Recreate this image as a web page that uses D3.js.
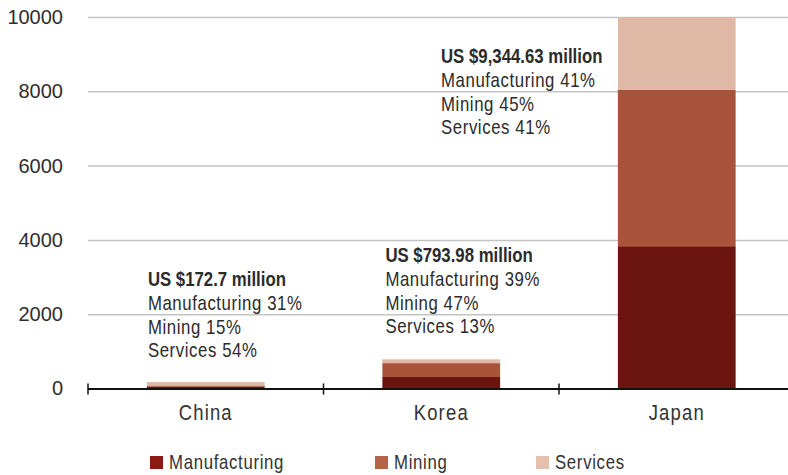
<!DOCTYPE html>
<html>
<head>
<meta charset="utf-8">
<script src="https://cdn.jsdelivr.net/npm/d3@7"></script>
<style>
  body { margin: 0; background: #fff; }
  .cond { font-family: "Liberation Sans", Arial, sans-serif; }
</style>
</head>
<body>
<div class="chart"></div>
<script>
// chart values
var categories = ["China", "Korea", "Japan"];
var seriesNames = ["Manufacturing", "Mining", "Services"];
var manufacturing = [53.5, 310, 3831];
var mining = [25.9, 373, 4205];
var services = [93.3, 103, 3831];
var yTicks = [0, 2000, 4000, 6000, 8000, 10000];
var totals = ["US $172.7 million", "US $793.98 million", "US $9,344.63 million"];
var shareLines = [
  ["Manufacturing 31%", "Mining 15%", "Services 54%"],
  ["Manufacturing 39%", "Mining 47%", "Services 13%"],
  ["Manufacturing 41%", "Mining 45%", "Services 41%"]
];

var barColors = ["#6b1410", "#a9533a", "#e0b9a6"];
var swatchColors = ["#8b1a12", "#b5644a", "#e5c0ae"];

var svgWidth = 788;
var svgHeight = 475;

var svg = d3.select(".chart")
  .append("svg")
  .attr("width", svgWidth)
  .attr("height", svgHeight);

var plotLeft = 88, plotRight = 794.5, plotTop = 17, plotBottom = 388.5;
var squeeze = 0.84; // horizontal squeeze to mimic condensed type

var xScale = d3.scaleBand()
  .domain(categories)
  .range([plotLeft, plotRight])
  .paddingInner(0.5)
  .paddingOuter(0.25);

var yScale = d3.scaleLinear()
  .domain([0, 10000])
  .range([plotBottom, plotTop])
  .clamp(true);

// gridlines + y labels
var yAxis = svg.append("g")
  .attr("transform", `translate(${plotLeft}, 0)`)
  .call(d3.axisLeft(yScale)
    .tickValues(yTicks)
    .tickSize(-(svgWidth - plotLeft))
    .tickPadding(25)
    .tickFormat(d3.format("d")));

yAxis.select(".domain").remove();
yAxis.selectAll(".tick line")
  .attr("stroke", "#c4c4c4")
  .attr("stroke-width", 1.5);
yAxis.selectAll(".tick text")
  .attr("fill", "#2e2e2e")
  .style("font-family", "'Liberation Sans', Arial, sans-serif")
  .style("font-size", "20px");

// stacked bars
var rows = categories.map(function(c, i) {
  return { cat: c, Manufacturing: manufacturing[i], Mining: mining[i], Services: services[i] };
});
var stacked = d3.stack().keys(seriesNames)(rows);

svg.append("g").selectAll("g")
  .data(stacked)
  .enter()
  .append("g")
  .attr("fill", function(d, i) { return barColors[i]; })
  .selectAll("rect")
  .data(function(d) { return d; })
  .enter()
  .append("rect")
  .attr("x", d => xScale(d.data.cat))
  .attr("width", xScale.bandwidth())
  .attr("y", d => yScale(d[1]))
  .attr("height", d => yScale(d[0]) - yScale(d[1]));

// x axis line with ticks at band edges
var step = xScale.step();
var edge = function(c) { return xScale(c) - (step - xScale.bandwidth()) / 2; };
var xg = svg.append("g");
xg.append("line")
  .attr("x1", plotLeft).attr("x2", svgWidth)
  .attr("y1", plotBottom + 0.5).attr("y2", plotBottom + 0.5)
  .attr("stroke", "#111").attr("stroke-width", 2);
xg.selectAll(".xtick")
  .data(categories)
  .enter()
  .append("line")
  .attr("class", "xtick")
  .attr("x1", d => edge(d)).attr("x2", d => edge(d))
  .attr("y1", plotBottom - 5).attr("y2", plotBottom + 6)
  .attr("stroke", "#111").attr("stroke-width", 1.5);

// squeezed text helper
function condText(parent, x, y, str, size, spacing, weight, anchor) {
  return parent.append("g")
    .attr("transform", `translate(${x}, ${y}) scale(${squeeze}, 1)`)
    .append("text")
    .attr("class", "cond")
    .attr("text-anchor", anchor || "start")
    .style("font-size", size + "px")
    .style("font-weight", weight || "normal")
    .style("letter-spacing", spacing + "px")
    .text(str);
}

// category labels
var catG = svg.append("g").attr("fill", "#333");
categories.forEach(function(c) {
  condText(catG, xScale(c) + xScale.bandwidth() / 2, 420, c, 22, 1.4, "normal", "middle");
});

// annotations
var notePos = [
  { x: xScale("China") + 1, y: 286 },
  { x: xScale("Korea") + 3, y: 262 },
  { x: 441, y: 63 }
];
var lineGap = 23.8;

categories.forEach(function(c, i) {
  var g = svg.append("g").attr("fill", "#2b2b2b");
  condText(g, notePos[i].x, notePos[i].y, totals[i], 20, 0, "bold");
  shareLines[i].forEach(function(s, j) {
    condText(g, notePos[i].x, notePos[i].y + lineGap * (j + 1), s, 20, 0.7);
  });
});

// legend
var legendX = [150, 375, 536];
var legendG = svg.append("g").attr("fill", "#333");
seriesNames.forEach(function(s, i) {
  legendG.append("rect")
    .attr("x", legendX[i])
    .attr("y", 456)
    .attr("width", 13)
    .attr("height", 13)
    .attr("fill", swatchColors[i]);
  condText(legendG, legendX[i] + 19, 469, s, 20, 0.8);
});
</script>
</body>
</html>
